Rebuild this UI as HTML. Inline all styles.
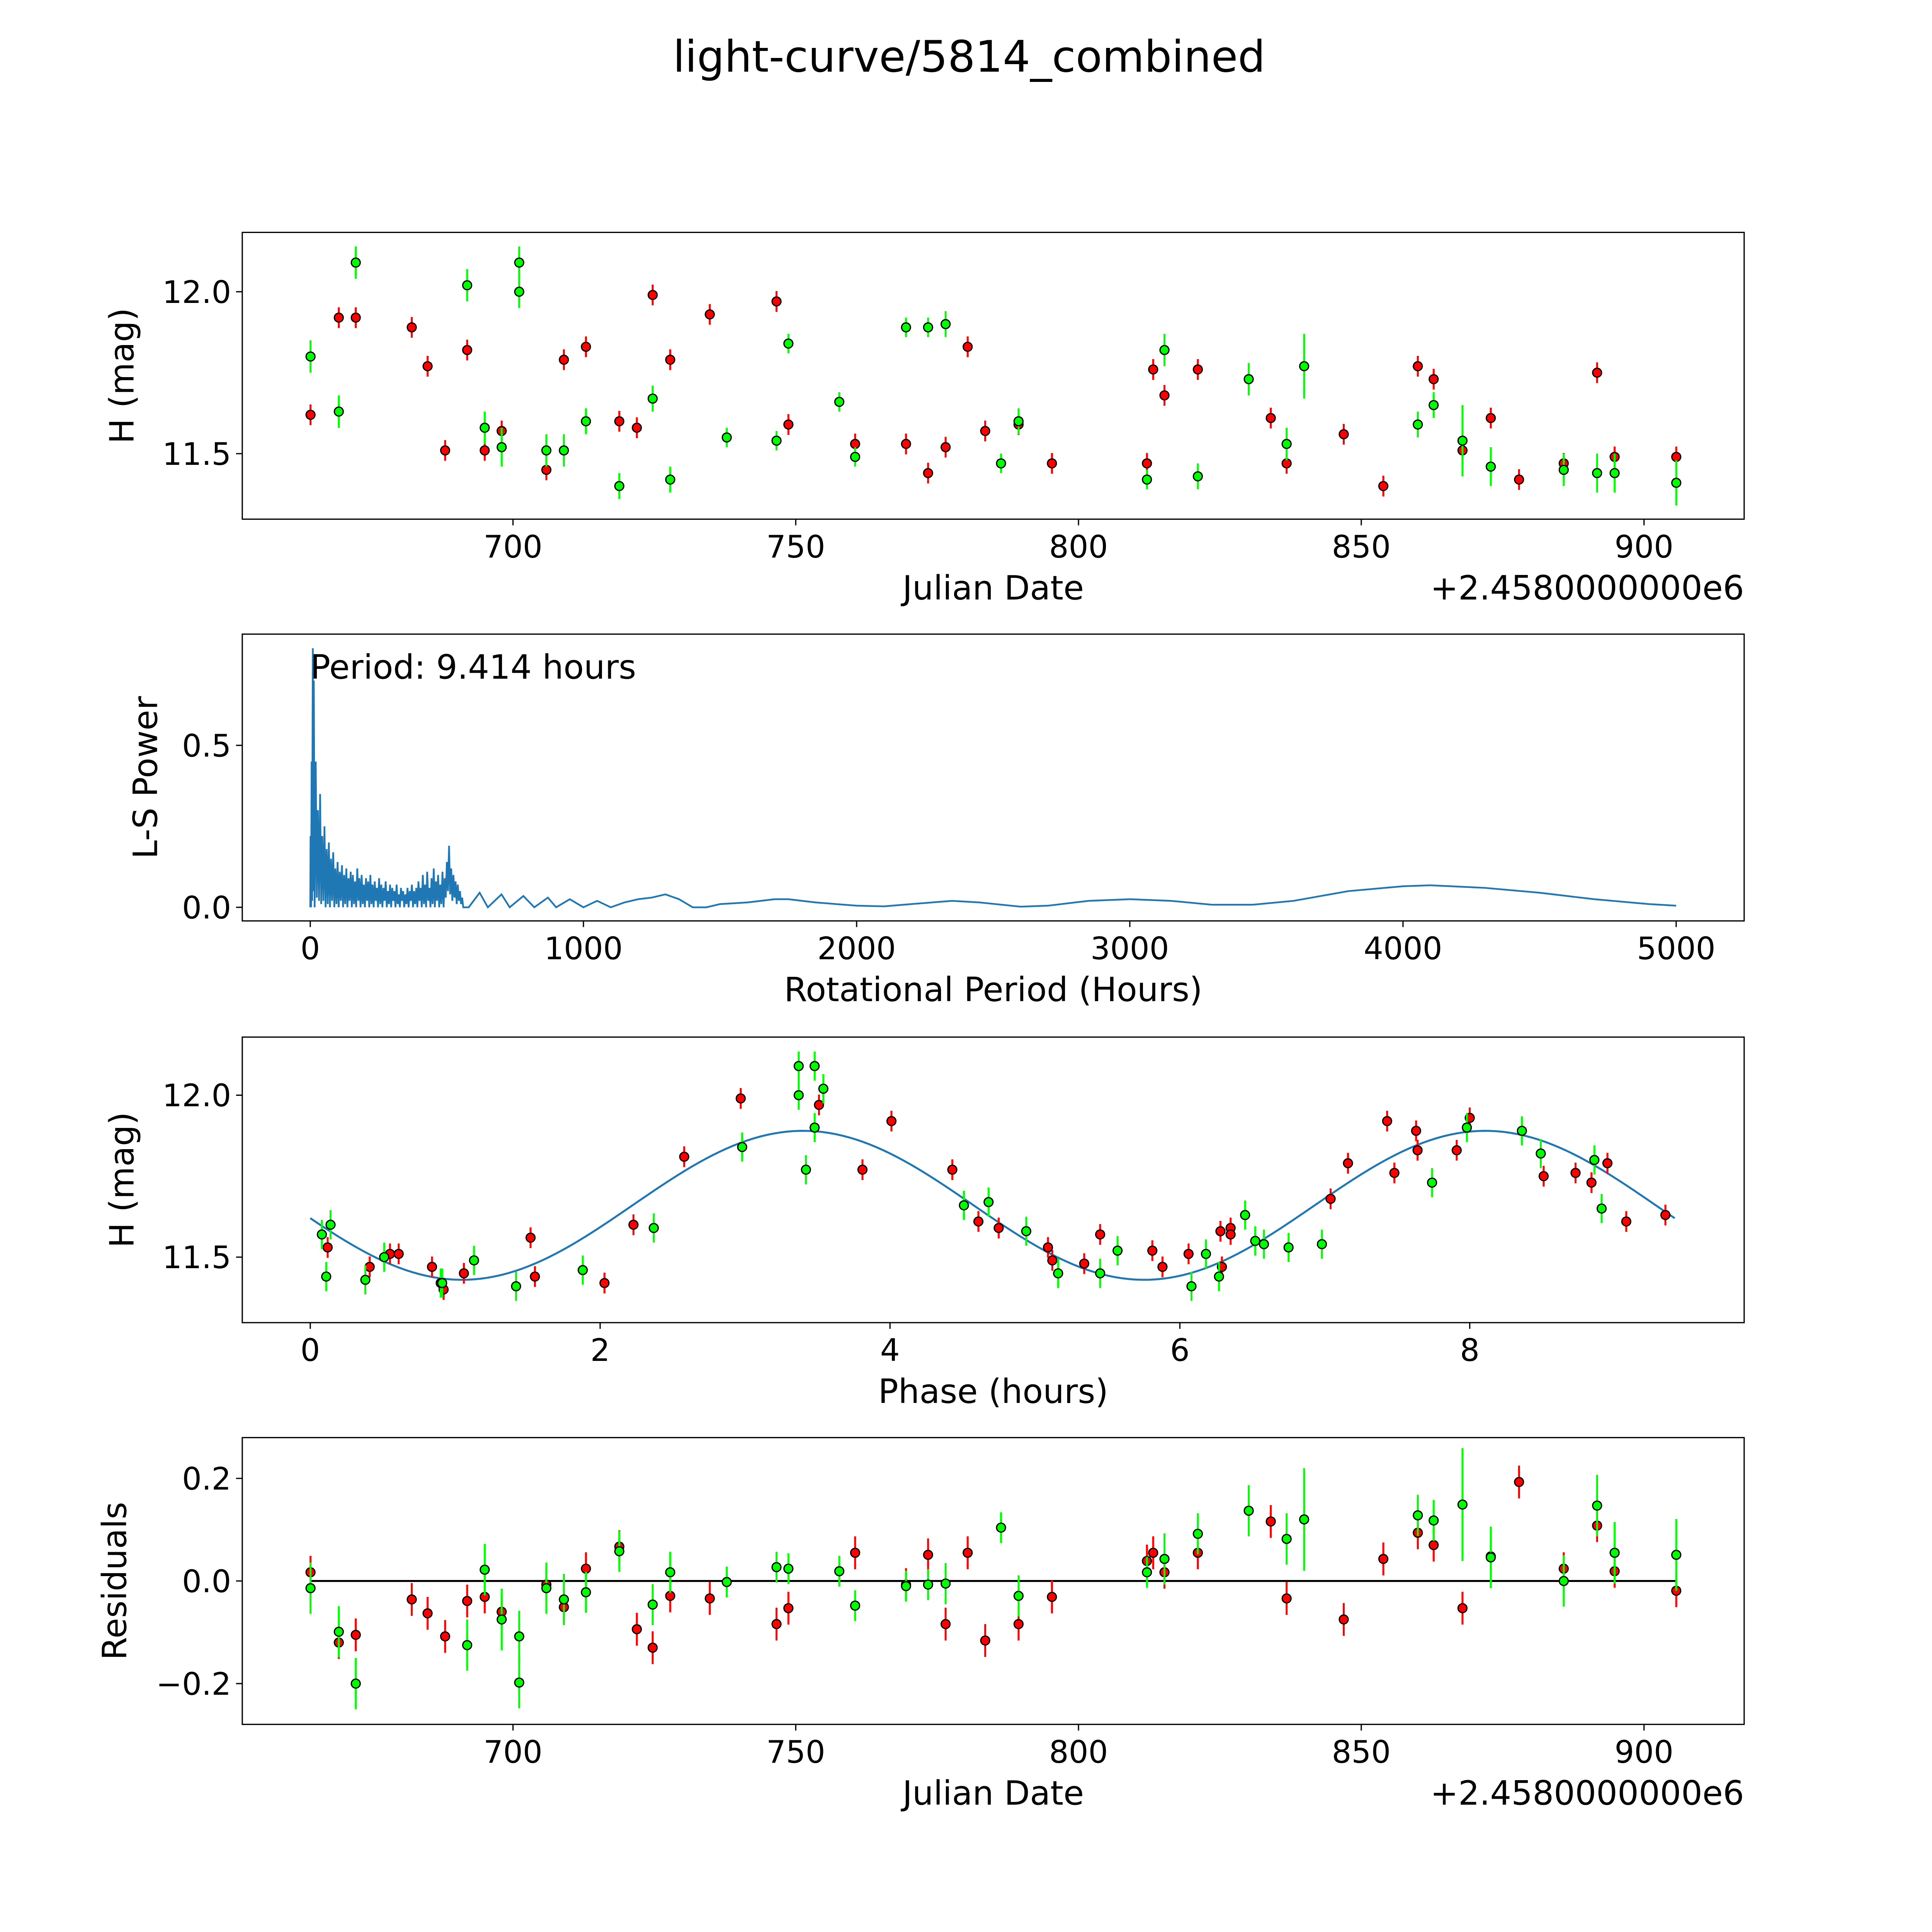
<!DOCTYPE html>
<html><head><meta charset="utf-8"><style>
html,body{margin:0;padding:0;background:#fff;overflow:hidden;width:5400px;height:5400px;}
svg{display:block;}
text{font-family:"DejaVu Sans","Liberation Sans",sans-serif;fill:#000;}
</style></head><body>
<svg id="fig" width="5400" height="5400" viewBox="0 0 1688 1688" xmlns="http://www.w3.org/2000/svg">
<rect width="1688" height="1688" fill="#fff"/>
<text x="784" y="58" font-size="35" text-anchor="middle">light-curve/5814_combined</text>
</svg>
<script>
// ---- Data ----
const jdRed = [664.2,669.2,672.2,682.1,684.9,688.0,691.9,695.0,698.0,705.9,709.0,712.9,718.8,721.9,724.7,727.8,734.8,746.6,748.7,760.5,769.5,773.4,776.5,780.4,783.5,789.4,795.3,812.1,813.2,815.2,821.1,834.0,836.8,846.9,853.9,860.0,862.8,867.9,872.9,877.9,885.8,891.7,894.8,905.7];
const magRed = [11.62,11.92,11.92,11.89,11.77,11.51,11.82,11.51,11.57,11.45,11.79,11.83,11.60,11.58,11.99,11.79,11.93,11.97,11.59,11.53,11.53,11.44,11.52,11.83,11.57,11.59,11.47,11.47,11.76,11.68,11.76,11.61,11.47,11.56,11.40,11.77,11.73,11.51,11.61,11.42,11.47,11.75,11.49,11.49];
const resRed = [0.017,-0.12,-0.105,-0.036,-0.063,-0.108,-0.039,-0.031,-0.060,-0.007,-0.051,0.024,0.067,-0.094,-0.130,-0.029,-0.034,-0.084,-0.053,0.055,-0.007,0.051,-0.084,0.055,-0.116,-0.084,-0.031,0.039,0.055,0.017,0.055,0.116,-0.034,-0.075,0.043,0.094,0.070,-0.053,0.048,0.193,0.024,0.108,0.019,-0.019];
const jdGreen = [664.2,669.2,672.2,691.9,695.0,698.0,701.1,701.1,705.9,709.0,712.9,718.8,724.7,727.8,737.8,746.6,748.7,757.7,760.5,769.5,773.4,776.5,786.3,789.4,812.1,815.2,821.1,830.1,836.8,839.9,860.0,862.8,867.9,872.9,885.8,891.7,894.8,905.7];
const magGreen = [11.80,11.63,12.09,12.02,11.58,11.52,12.09,12.00,11.51,11.51,11.60,11.40,11.67,11.42,11.55,11.54,11.84,11.66,11.49,11.89,11.89,11.90,11.47,11.60,11.42,11.82,11.43,11.73,11.53,11.77,11.59,11.65,11.54,11.46,11.45,11.44,11.44,11.41];
const resGreen = [-0.014,-0.099,-0.2,-0.125,0.022,-0.075,-0.108,-0.198,-0.014,-0.036,-0.022,0.058,-0.046,0.017,-0.002,0.027,0.024,0.019,-0.048,-0.010,-0.007,-0.005,0.104,-0.029,0.017,0.043,0.092,0.137,0.082,0.120,0.128,0.118,0.149,0.046,0.0,0.147,0.055,0.051];
const errGreen = [0.05,0.05,0.05,0.05,0.05,0.06,0.05,0.05,0.05,0.05,0.04,0.04,0.04,0.04,0.03,0.03,0.03,0.03,0.03,0.03,0.03,0.04,0.03,0.04,0.03,0.05,0.04,0.05,0.05,0.1,0.04,0.04,0.11,0.06,0.05,0.06,0.06,0.07];
const errRed = 0.032;
const phaseRed = [0.12,0.41,0.55,0.61,0.84,0.92,1.06,1.52,1.55,2.03,2.23,2.58,2.97,3.51,3.81,4.01,4.43,4.61,4.75,5.09,5.12,5.34,5.45,5.81,5.88,6.06,6.28,6.29,6.35,6.35,7.04,7.16,7.43,7.48,7.63,7.64,7.91,8.00,8.51,8.73,8.84,8.95,9.08,9.35];
const phMagRed = [11.53,11.47,11.51,11.51,11.47,11.40,11.45,11.56,11.44,11.42,11.60,11.81,11.99,11.97,11.77,11.92,11.77,11.61,11.59,11.53,11.49,11.48,11.57,11.52,11.47,11.51,11.58,11.47,11.59,11.57,11.68,11.79,11.92,11.76,11.89,11.83,11.83,11.93,11.75,11.76,11.73,11.79,11.61,11.63];
const phaseGreen = [0.08,0.11,0.14,0.38,0.51,0.90,0.91,1.13,1.42,1.88,2.37,2.98,3.37,3.37,3.42,3.48,3.48,3.54,4.51,4.68,4.94,5.16,5.45,5.57,6.08,6.18,6.27,6.45,6.52,6.58,6.75,6.98,7.98,8.36,8.49,7.74,8.86,8.91];
const phMagGreen = [11.57,11.44,11.60,11.43,11.50,11.42,11.42,11.49,11.41,11.46,11.59,11.84,12.09,12.00,11.77,12.09,11.90,12.02,11.66,11.67,11.58,11.45,11.45,11.52,11.41,11.51,11.44,11.63,11.55,11.54,11.53,11.54,11.90,11.89,11.82,11.73,11.80,11.65];
const fitParams = [11.66, 0.23, 3.4, 9.414]; // mean, amplitude, peak phase, period
const lsPeriods = [1,3,5,7,8.5,9.4,10.5,13,16,
20,24,28,32,36,40,44,48,52,56,60,64,68,72,76,80,84,88,92,96,100,104,108,112,116,120,124,128,132,136,140,144,148,152,156,160,164,168,172,176,180,184,188,192,196,200,204,208,212,216,220,224,228,232,236,240,244,248,252,256,260,264,268,272,276,280,284,288,292,296,300,304,308,312,316,320,324,328,332,336,340,344,348,352,356,360,364,368,372,376,380,384,388,392,396,400,404,408,412,416,420,424,428,432,436,440,444,448,452,456,460,464,468,472,476,480,484,488,492,496,500,504,508,512,516,520,524,528,532,536,540,544,548,552,556,560,
580,620,650,700,730,780,820,870,900,950,1000,1050,1100,1150,1200,1250,1300,1350,1400,1450,1500,1600,1700,1750,1850,2000,2100,2200,2350,2450,2600,2700,2850,3000,3150,3300,3450,3600,3800,4000,4100,4300,4500,4700,4900,5000];
const lsPower = [0.22,0.0,0.45,0.02,0.6,0.8,0.05,0.7,0.0,
0.45,0.03,0.3,0.02,0.35,0.01,0.22,0.02,0.25,0.0,0.18,0.01,0.2,0.0,0.15,0.02,0.17,0.0,0.12,0.01,0.14,0.0,0.11,0.02,0.13,0.0,0.1,0.01,0.12,0.0,0.09,0.02,0.11,0.0,0.1,0.01,0.08,0.0,0.12,0.02,0.09,0.0,0.1,0.01,0.07,0.0,0.09,0.02,0.08,0.0,0.1,0.01,0.07,0.0,0.08,0.02,0.06,0.0,0.09,0.01,0.07,0.0,0.06,0.02,0.08,0.0,0.05,0.01,0.07,0.0,0.06,0.02,0.05,0.0,0.07,0.01,0.04,0.0,0.06,0.02,0.05,0.0,0.04,0.01,0.06,0.0,0.05,0.02,0.07,0.0,0.05,0.01,0.06,0.0,0.08,0.02,0.06,0.0,0.1,0.01,0.07,0.0,0.11,0.02,0.06,0.0,0.09,0.01,0.12,0.0,0.08,0.02,0.1,0.0,0.07,0.01,0.11,0.0,0.09,0.03,0.14,0.05,0.19,0.04,0.12,0.02,0.1,0.03,0.08,0.01,0.07,0.02,0.05,0.01,0.03,0.0,
0.0,0.045,0.0,0.04,0.0,0.035,0.0,0.03,0.0,0.025,0.0,0.02,0.0,0.015,0.025,0.03,0.04,0.025,0.0,0.0,0.01,0.015,0.025,0.025,0.015,0.005,0.003,0.01,0.02,0.015,0.002,0.005,0.02,0.025,0.02,0.008,0.008,0.02,0.05,0.065,0.068,0.06,0.045,0.025,0.01,0.005];
const jdTicks = [700,750,800,850,900];
const magTicks = [11.5,12.0];
const resTicks = [-0.2,0.0,0.2];
const lsXTicks = [0,1000,2000,3000,4000,5000];
const lsYTicks = [0.0,0.5];
const phTicks = [0,2,4,6,8];

// ---- Helpers ----
const svg = document.getElementById('fig');
const NS = 'http://www.w3.org/2000/svg';
function mk(tag, attrs, parent){const e=document.createElementNS(NS,tag);for(const k in attrs)e.setAttribute(k,attrs[k]);(parent||svg).appendChild(e);return e;}
function lin(d0,d1,p0,p1){return v=>p0+(v-d0)*(p1-p0)/(d1-d0);}
const L=196,R=1411;
function panel(name,top,bot,sx,sy,xt,yt,xfmt,yfmt,xlabel,ylabel,offset){
  const g=mk('g',{});
  
  
  xt.forEach(t=>{const x=sx(t);mk('line',{x1:x,x2:x,y1:bot,y2:bot+5,stroke:'#000','stroke-width':1},g);
    const tx=mk('text',{x:x,y:bot+31,'font-size':25,'text-anchor':'middle'},g);tx.textContent=xfmt(t);
    
    });
  yt.forEach(t=>{const y=sy(t);mk('line',{x1:L-5,x2:L,y1:y,y2:y,stroke:'#000','stroke-width':1},g);
    const tx=mk('text',{x:L-9,y:y+9,'font-size':25,'text-anchor':'end'},g);tx.textContent=yfmt(t);
    
    });
  const xl=mk('text',{x:(L+R)/2,y:bot+65,'font-size':27,'text-anchor':'middle'},g);xl.textContent=xlabel;
  
  
  const yl=mk('text',{x:0,y:0,'font-size':27,'text-anchor':'middle',transform:`translate(${ylabel[1]},${(top+bot)/2}) rotate(-90)`},g);yl.textContent=ylabel[0];
  
  
  if(offset){const o=mk('text',{x:R,y:bot+65,'font-size':27,'text-anchor':'end'},g);o.textContent=offset;
    
    }
  return g;
}
function frame(top,bot){const r=mk('rect',{x:L,y:top,width:R-L,height:bot-top,fill:'none',stroke:'#000','stroke-width':1});
  
  }
function points(xs,ys,errs,sx,sy,col,name){
  const g=mk('g',{});
  
  
  xs.forEach((x,i)=>{const e=Array.isArray(errs)?errs[i]:errs;const px=sx(x);
    mk('line',{x1:px,x2:px,y1:sy(ys[i]-e),y2:sy(ys[i]+e),stroke:col,'stroke-width':1.6},g);});
  xs.forEach((x,i)=>{const c=mk('circle',{cx:sx(x),cy:sy(ys[i]),r:3.6,fill:col,stroke:'#000','stroke-width':1},g);
    
    });
}
const fmtInt=v=>String(v);
const fmt1=v=>v.toFixed(1);
const fmtRes=v=>(v<0?'\u2212':'')+Math.abs(v).toFixed(1);

// ---- Panel 1: light curve ----
{const top=188,bot=420;const sx=lin(700,900,415,1330), sy=lin(12.0,11.5,236,367);
 panel('light-curve-panel',top,bot,sx,sy,jdTicks,magTicks,fmtInt,fmt1,'Julian Date',['H (mag)',108],'+2.4580000000e6');
 points(jdRed,magRed,errRed,sx,sy,'#ff0000','red-series');
 points(jdGreen,magGreen,errGreen,sx,sy,'#00ff00','green-series');
 frame(top,bot);}
// ---- Panel 2: periodogram ----
{const top=513,bot=745;const sx=lin(0,5000,251,1356), sy=lin(0,0.5,734,603);
 panel('periodogram-panel',top,bot,sx,sy,lsXTicks,lsYTicks,fmtInt,fmt1,'Rotational Period (Hours)',['L-S Power',127]);
 let d='';lsPeriods.forEach((p,i)=>{d+=(i?'L':'M')+sx(p).toFixed(2)+' '+sy(lsPower[i]).toFixed(2);});
 d='M'+sx(0)+' '+sy(0)+'L'+d.slice(1);
 const pl=mk('path',{d:d,fill:'none',stroke:'#1f77b4','stroke-width':1.4});
 
 
 const ann=mk('text',{x:251,y:549,'font-size':27});ann.textContent='Period: 9.414 hours';
 
 
 frame(top,bot);}
// ---- Panel 3: phased ----
{const top=839,bot=1070;const sx=lin(0,8,251,1189), sy=lin(12.0,11.5,886,1017);
 panel('phase-panel',top,bot,sx,sy,phTicks,magTicks,fmtInt,fmt1,'Phase (hours)',['H (mag)',108]);
 const [m,a,p0,P]=fitParams;let d='';
 for(let i=0;i<=200;i++){const ph=P*i/200;const v=m+a*Math.cos(2*Math.PI*2*(ph-p0)/P);d+=(i?'L':'M')+sx(ph).toFixed(2)+' '+sy(v).toFixed(2);}
 const fl=mk('path',{d:d,fill:'none',stroke:'#1f77b4','stroke-width':1.6});
 
 
 points(phaseRed,phMagRed,errRed,sx,sy,'#ff0000','red-phased-series');
 points(phaseGreen,phMagGreen,0.045,sx,sy,'#00ff00','green-phased-series');
 frame(top,bot);}
// ---- Panel 4: residuals ----
{const top=1163,bot=1395;const sx=lin(700,900,415,1330), sy=lin(0,0.2,1279,1196);
 panel('residuals-panel',top,bot,sx,sy,jdTicks,resTicks,fmtInt,fmtRes,'Julian Date',['Residuals',102],'+2.4580000000e6');
 const z=mk('line',{x1:sx(664.2),x2:sx(905.7),y1:sy(0),y2:sy(0),stroke:'#000','stroke-width':1.6});
 
 
 points(jdRed,resRed,errRed,sx,sy,'#ff0000','red-residuals');
 points(jdGreen,resGreen,errGreen,sx,sy,'#00ff00','green-residuals');
 frame(top,bot);}
</script>
</body></html>
